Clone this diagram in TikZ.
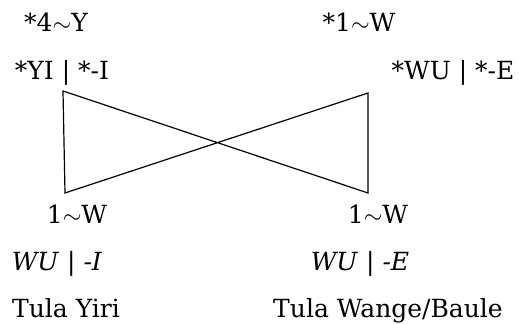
\documentclass[tikz,border=0pt]{standalone}
\usepackage{fontspec}
\setmainfont{DejaVu Serif}
\usetikzlibrary{positioning}

\tikzset{
  form/.style={inner sep=0pt,anchor=base,font=\fontsize{12.5}{14}\selectfont},
  link/.style={line width=0.6pt}
}

\begin{document}
\begin{tikzpicture}[x=0.5pt,y=-0.5pt]
  \useasboundingbox (0,0) rectangle (519,324);
  % proto forms
  \node[form] (protoY) at (56,32) {*4$\sim$Y};
  \node[form] (protoW) at (359,32) {*1$\sim$W};
  \node[form] (protoYI) at (62,80) {*YI | *-I};
  \node[form] (protoWU) at (453,80) {*WU | *-E};
  % reflexes
  \node[form] (yiriW) at (77,224) {1$\sim$W};
  \node[form] (wangeW) at (378,224) {1$\sim$W};
  \node[form] (yiriWU) at (57,271) {\textit{WU} | \textit{-I}};
  \node[form] (wangeWU) at (360,271) {\textit{WU} | \textit{-E}};
  \node[form] (yiri) at (66,318) {Tula Yiri};
  \node[form] (wange) at (388,318) {Tula Wange/Baule};
  % crossing links
  \coordinate (yiTop) at (63,91);
  \coordinate (yiBot) at (65,193);
  \coordinate (wuTop) at (368,93);
  \coordinate (wuBot) at (368,193);
  \draw[link] (yiTop) -- (yiBot) -- (wuTop) -- (wuBot) -- cycle;
\end{tikzpicture}
\end{document}
